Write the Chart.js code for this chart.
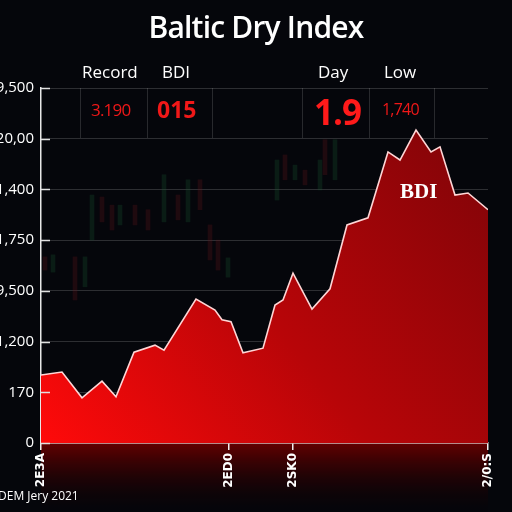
<!DOCTYPE html>
<html>
<head>
<meta charset="utf-8">
<script src="https://cdn.jsdelivr.net/npm/chart.js@4.4.1/dist/chart.umd.min.js"></script>
<style>
  html, body { margin: 0; padding: 0; background: #05060b; width: 512px; height: 512px; overflow: hidden; }
  #wrap { position: relative; width: 512px; height: 512px; font-family: "Open Sans", "Noto Sans", sans-serif; }
  #chart { position: absolute; left: -12px; top: 0; }
  .t { position: absolute; white-space: nowrap; line-height: 1; }
  .vl { position: absolute; top: 88px; height: 50px; width: 1px; background: rgba(255,255,255,0.14); }
</style>
</head>
<body>
<div id="wrap">
  <canvas id="chart" width="524" height="512"></canvas>
  <div class="t" style="left:0;width:512px;top:12px;text-align:center;color:#fff;font-size:30px;font-weight:600;letter-spacing:-0.8px;">Baltic Dry Index</div>
  <div class="t" style="left:82px;top:63px;color:#fff;font-size:17px;">Record</div>
  <div class="t" style="left:162px;top:63px;color:#fff;font-size:17px;">BDI</div>
  <div class="t" style="left:318px;top:63px;color:#fff;font-size:17px;">Day</div>
  <div class="t" style="left:384px;top:63px;color:#fff;font-size:17px;">Low</div>
  <div class="vl" style="left:80px"></div>
  <div class="vl" style="left:147px"></div>
  <div class="vl" style="left:212px"></div>
  <div class="vl" style="left:302px"></div>
  <div class="vl" style="left:369px"></div>
  <div class="vl" style="left:434px"></div>
  <div class="t" style="left:91px;top:101px;color:#f01818;font-size:17px;letter-spacing:-0.8px;">3.190</div>
  <div class="t" style="left:157px;top:98px;color:#f01818;font-size:23px;font-weight:bold;">015</div>
  <div class="t" style="left:314px;top:94px;color:#ff1a1a;font-size:35px;font-weight:bold;letter-spacing:-1px;">1.9</div>
  <div class="t" style="left:382px;top:101px;color:#f01818;font-size:16px;letter-spacing:-0.8px;">1,740</div>
  <div class="t" style="left:400px;top:181px;color:#fff;font-size:21px;font-weight:bold;font-family:'Liberation Serif',serif;">BDI</div>
  <div class="t" style="left:-2px;top:490px;color:#fff;font-size:12px;">DEM Jery 2021</div>
</div>
<script>
// axis labels as they appear in the picture
const yTickLabels = ['0', '170', '1,200', '9,500', '1,750', '1,400', '20,00', '9,500'];
const xTickPos = [0, 188, 252, 447];
const xTickLabels = ['2E3A', '2ED0', '2SK0', '2/0:S'];

// BDI series (x = day offset, y = index in grid steps)
const days = [0, 21, 41, 61, 75, 93, 114, 123, 155, 174, 181, 190, 202, 222, 234,
              242, 252, 271, 289, 306, 327, 347, 359, 375, 390, 399, 414, 427, 447];
const bdi = [1.34, 1.40, 0.89, 1.22, 0.91, 1.79, 1.93, 1.83, 2.84, 2.62, 2.43, 2.39, 1.78, 1.87, 2.72,
             2.82, 3.35, 2.64, 3.04, 4.30, 4.44, 5.74, 5.58, 6.17, 5.74, 5.84, 4.89, 4.93, 4.60];

// faint candles in the background
const candleDays = [4, 12, 34, 44, 51, 61, 71, 79, 94, 107, 123, 137, 147, 159, 169, 177, 187,
                    236, 244, 254, 264, 279, 284, 294];
const candleLow = [3.41, 3.37, 2.82, 3.08, 4.00, 4.36, 4.20, 4.30, 4.30, 4.20, 4.36, 4.40, 4.36, 4.60, 3.61, 3.41, 3.27,
                   4.79, 5.19, 5.19, 5.09, 4.99, 5.29, 5.19];
const candleHigh = [3.67, 3.71, 3.67, 3.67, 4.89, 4.85, 4.69, 4.69, 4.69, 4.60, 5.29, 4.89, 5.19, 5.19, 4.30, 4.00, 3.65,
                    5.58, 5.68, 5.48, 5.38, 5.58, 5.98, 5.98];
const candleUp = [0, 1, 0, 1, 1, 0, 0, 1, 0, 0, 1, 0, 1, 0, 0, 0, 1,
                  1, 0, 1, 0, 1, 0, 1];

const glow = {
    id: 'glow',
    beforeDraw(chart) {
        const { ctx, chartArea: a } = chart
        const g = ctx.createLinearGradient(0, a.bottom, 0, chart.height)
        g.addColorStop(0, 'rgba(110,0,0,0.9)')
        g.addColorStop(1, 'rgba(20,0,0,0)')
        ctx.save()
        ctx.fillStyle = g
        ctx.fillRect(a.left, a.bottom, a.right - a.left, chart.height - a.bottom)
        ctx.restore()
    },
    afterDraw(chart) {
        // short bright tick marks just inside the y axis
        const { ctx, chartArea: a, scales } = chart
        ctx.save()
        ctx.strokeStyle = '#e0e0e0'
        ctx.lineWidth = 1.5
        scales.y.ticks.forEach(t => {
            const y = Math.round(scales.y.getPixelForValue(t.value)) + 0.5
            ctx.beginPath()
            ctx.moveTo(a.left, y)
            ctx.lineTo(a.left + 9, y)
            ctx.stroke()
        })
        ctx.restore()
    }
}

const ctx = document.getElementById('chart').getContext('2d')
new Chart(ctx, {
    data: {
        datasets: [{
            type: 'line',
            label: 'BDI',
            order: 0,
            data: days.map((d, i) => ({ x: d, y: bdi[i] })),
            borderColor: '#ffd6d6',
            borderWidth: 1.6,
            pointRadius: 0,
            tension: 0,
            fill: 'origin',
            backgroundColor(c) {
                const a = c.chart.chartArea
                if (!a) return '#c00'
                const g = c.chart.ctx.createLinearGradient(a.left, a.bottom, a.right, a.top)
                g.addColorStop(0, '#ff0a0a')
                g.addColorStop(0.45, '#b80508')
                g.addColorStop(1, '#7a0408')
                return g
            }
        }, {
            type: 'bar',
            label: 'candles',
            order: 1,
            data: candleDays.map((d, i) => ({ x: d, y: [candleLow[i], candleHigh[i]] })),
            backgroundColor: candleUp.map(u => u ? 'rgba(25,85,50,0.28)' : 'rgba(100,20,30,0.28)'),
            barThickness: 4
        }]
    },
    options: {
        responsive: false,
        animation: false,
        layout: { padding: { top: 88, right: 24, left: 0, bottom: 0 } },
        plugins: { legend: { display: false }, tooltip: { enabled: false } },
        scales: {
            x: {
                type: 'linear',
                min: 0,
                max: 447,
                offset: false,
                afterBuildTicks(s) { s.ticks = xTickPos.map(v => ({ value: v })) },
                afterFit(s) { s.height = 69 },
                border: { color: '#f0f0f0', width: 1.5 },
                grid: { offset: false, drawOnChartArea: false, color: '#eee', tickLength: 7, lineWidth: 1.5 },
                ticks: {
                    minRotation: 90, maxRotation: 90,
                    color: '#fff',
                    font: { family: 'DejaVu Sans', size: 12, weight: 'bold' },
                    callback: (v) => xTickLabels[xTickPos.indexOf(v)]
                }
            },
            y: {
                min: 0,
                max: 7,
                afterFit(s) { s.width = 53 },
                border: { color: '#e8e8e8', width: 1.5 },
                grid: { color: 'rgba(255,255,255,0.16)', drawTicks: false },
                ticks: {
                    stepSize: 1,
                    color: '#fff',
                    padding: 7,
                    font: { family: 'Open Sans', size: 15 },
                    callback: (v) => yTickLabels[v]
                }
            }
        }
    },
    plugins: [glow]
})
</script>
</body>
</html>
